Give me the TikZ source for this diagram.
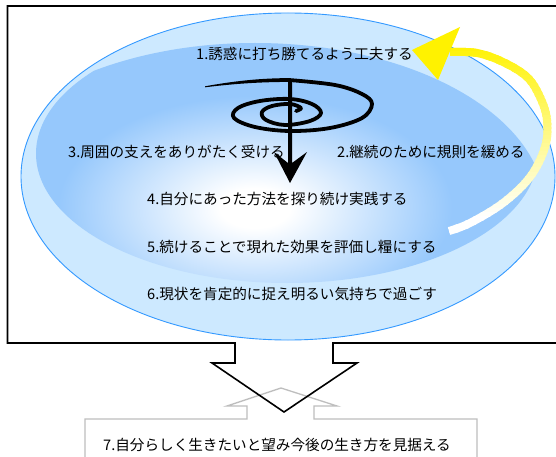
\documentclass[tikz,border=0pt]{standalone}
\usepackage{fontspec}
\newfontfamily\jp{Noto Sans CJK JP}
\definecolor{bandblue}{RGB}{205,233,255}
\definecolor{edgeblue}{RGB}{51,153,255}
\definecolor{innerblue}{RGB}{150,200,252}
\definecolor{boxgray}{RGB}{190,190,190}
\pgfdeclareradialshading{glow}{\pgfpoint{0bp}{0bp}}{color(0bp)=(white); color(3bp)=(white); color(17bp)=(innerblue); color(50bp)=(innerblue)}
\begin{document}
\begin{tikzpicture}[x=1pt,y=-1pt,
  txt/.style={font=\jp\fontsize{14.6}{16}\selectfont, anchor=west, inner sep=0pt},
  frame/.style={black, line width=1.6pt, line join=miter},
  graybox/.style={boxgray, line width=1.3pt},
  spiral/.style={line width=3.8pt, line cap=round, line join=round}]
\useasboundingbox (0,0) rectangle (556,457);
\fill[white] (0,0) rectangle (556,457);

% gray box with upward arrow
\draw[graybox] (247,419) -- (85,419) -- (85,470) -- (477,470) -- (477,419) -- (314,419) -- (314,406) -- (337,406) -- (281,388) -- (227,406) -- (247,406) -- cycle;
\node[txt] (t7) at (103,445) {7.自分らしく生きたいと望み今後の生き方を見据える};

% frame with downward arrow
\draw[frame] (235,343) -- (7.5,343) -- (7.5,6) -- (565,6) -- (565,343) -- (333,343) -- (333,363) -- (357,363) -- (284,412) -- (212,363) -- (235,363) -- cycle;

% ellipses
\fill[bandblue] (288,176.5) ellipse [x radius=267, y radius=163.5];
\begin{scope}
\clip (287,153.5) ellipse [x radius=251, y radius=129.5];
\shade[shading=glow] (255,208) ellipse [x radius=290, y radius=165];
\end{scope}
\draw[edgeblue, line width=0.9pt] (288,176.5) ellipse [x radius=267, y radius=163.5];

% texts
\node[txt] (t1) at (196,54) {1.誘惑に打ち勝てるよう工夫する};
\node[txt] (t3) at (68,152) {3.周囲の支えをありがたく受ける};
\node[txt] (t2) at (337,152) {2.継続のために規則を緩める};
\node[txt] (t4) at (147,199) {4.自分にあった方法を探り続け実践する};
\node[txt] (t5) at (147,247) {5.続けることで現れた効果を評価し糧にする};
\node[txt] (t6) at (147,294) {6.現状を肯定的に捉え明るい気持ちで過ごす};

% spiral
\fill (205,86.3) .. controls (240,80) and (265,78.2) .. (290,78.1) -- (290,81.9) .. controls (265,82) and (240,83) .. (205,87.3) -- cycle;
\draw[spiral] plot[smooth, tension=0.6] coordinates {(289,80) (335,85) (362,94) (372,104) (362,118) (330,128) (290,131) (255,127) (234,118) (238,108) (260,101) (290,99) (312,104) (321,113) (310,121) (285,125) (266,120) (262,112) (272,106) (290,104) (301,108) (296,111)};
\fill (288,80) -- (292,80) -- (292,163) -- (307,152) -- (290,183) -- (274,152) -- (288,163) -- cycle;

% yellow curved arrow
\foreach \i in {0,...,49}{
  \pgfmathsetmacro{\ya}{44+4*\i}
  \pgfmathsetmacro{\yb}{\ya+4.6}
  \pgfmathsetmacro{\pp}{max(0,min(100,(215-\ya)*0.58))}
  \begin{scope}
    \clip (400,\ya) rectangle (560,\yb);
    \draw[line width=8pt, color={yellow!\pp!white}] plot[smooth, tension=0.6] coordinates {(449,231) (470,223) (503,203) (530,177) (545,147) (547,120) (540,97) (527,77) (503,62) (477,53) (450,52)};
  \end{scope}
}
\fill[yellow] (412,50) -- (460,27) -- (438,80) -- cycle;
\end{tikzpicture}
\end{document}
